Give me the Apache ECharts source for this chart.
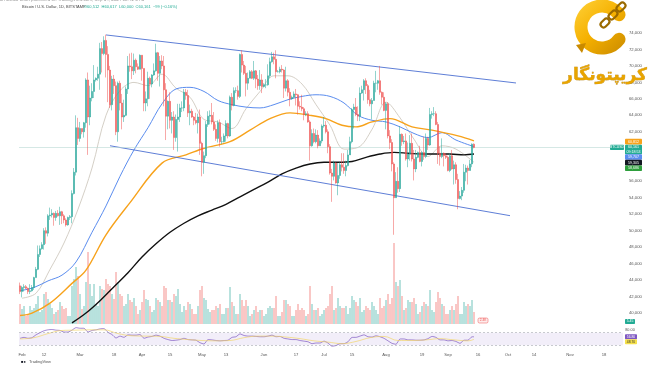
<!DOCTYPE html>
<html><head><meta charset="utf-8">
<script src="https://cdn.jsdelivr.net/npm/echarts/dist/echarts.min.js"></script>
<style>html,body{margin:0;padding:0;background:#fff}#c{width:650px;height:365px}</style>
</head><body><div id="c"></div>
<script>
// ---------- data (prices in thousands of USD) ----------
const startDate = '2024-01-31';
const endDate = '2024-11-27';
// daily candles from 2024-01-31: [open, close, low, high]
const candles = [
[43.3,42.6,42.3,43.7],
// Feb
[42.6,43.1,41.9,43.3],[43.1,43.2,42.6,43.5],[43.2,43.0,42.9,43.4],[43.0,42.6,42.3,43.1],[42.6,42.7,42.3,43.5],[42.7,43.1,42.6,43.4],[43.1,44.3,42.8,44.4],
[44.3,45.3,44.3,45.6],[45.3,47.1,45.2,48.2],[47.1,47.8,46.8,48.2],[47.8,48.3,47.7,48.6],[48.3,50.0,47.7,50.3],[50.0,49.7,48.4,50.4],[49.7,51.8,49.3,52.0],
[51.8,51.9,51.3,52.8],[51.9,52.1,51.6,52.6],[52.1,51.6,50.6,52.2],[51.6,52.1,51.2,52.4],[52.1,51.8,51.7,52.5],[51.8,52.3,50.7,52.9],[52.3,51.8,50.8,52.4],
[51.8,51.3,50.9,52.0],[51.3,50.7,50.5,51.5],[50.7,51.6,50.6,51.7],[51.6,51.7,51.3,51.9],[51.7,54.5,50.9,54.9],[54.5,57.1,54.4,57.6],[57.1,62.5,56.7,64.0],
[62.5,61.2,60.4,63.7],
// Mar
[61.2,62.4,60.8,63.2],[62.4,62.0,61.7,62.4],[62.0,63.1,61.3,63.2],[63.1,68.3,62.5,68.5],[68.3,63.8,59.2,69.2],[63.8,66.1,62.8,67.6],[66.1,66.9,65.7,67.9],
[66.9,68.3,66.1,70.1],[68.3,68.5,68.1,68.6],[68.5,69.0,68.2,69.9],[69.0,72.1,67.1,72.8],[72.1,71.5,69.2,72.9],[71.5,73.1,71.3,73.6],[73.1,71.4,68.6,73.8],
[71.4,69.5,65.6,72.4],[69.5,65.3,64.9,70.0],[65.3,68.4,64.6,68.8],[68.4,67.6,66.6,68.9],[67.6,62.0,61.6,68.1],[62.0,67.9,60.8,68.1],[67.9,65.5,64.6,68.2],
[65.5,63.8,62.3,66.6],[63.8,64.0,63.2,65.9],[64.0,67.2,63.9,67.5],[67.2,70.0,66.6,71.2],[70.0,69.9,69.3,71.5],[69.9,69.4,68.4,71.6],[69.4,70.7,68.9,71.5],
[70.7,69.9,69.1,70.9],[69.9,69.6,69.5,70.3],[69.6,71.3,69.6,71.4],
// Apr
[71.3,69.7,68.2,71.3],[69.7,65.5,64.5,69.7],[65.5,66.0,64.5,66.9],[66.0,68.5,65.1,69.3],[68.5,67.8,66.0,68.7],[67.8,68.9,67.4,69.0],[68.9,69.4,68.8,70.3],
[69.4,71.6,69.3,72.7],[71.6,69.1,68.2,71.7],[69.1,70.6,67.5,71.2],[70.6,70.0,69.6,71.3],[70.0,67.1,65.1,71.2],[67.1,63.9,61.0,67.9],[63.9,65.7,62.3,65.8],
[65.7,63.4,62.4,66.8],[63.4,63.8,61.8,64.4],[63.8,61.3,59.8,64.5],[61.3,63.5,60.8,64.1],[63.5,63.8,59.6,65.4],[63.8,64.9,63.2,65.4],[64.9,64.9,64.4,65.7],
[64.9,66.8,64.5,67.2],[66.8,66.4,65.9,67.2],[66.4,64.3,63.8,67.1],[64.3,64.5,62.8,65.3],[64.5,63.8,63.7,64.8],[63.8,63.4,62.8,63.9],[63.4,63.1,62.9,64.3],
[63.1,63.8,61.8,64.2],[63.8,60.6,59.2,64.7],
// May
[60.6,58.3,56.6,60.8],[58.3,59.1,56.9,59.6],[59.1,62.9,58.8,63.3],[62.9,63.9,62.6,64.5],[63.9,64.0,62.9,64.6],[64.0,63.2,62.9,65.5],[63.2,62.3,62.1,64.4],
[62.3,61.2,60.9,62.9],[61.2,63.1,60.7,63.4],[63.1,60.8,60.2,63.5],[60.8,60.8,60.5,61.4],[60.8,61.5,60.7,61.8],[61.5,63.0,60.8,63.4],[63.0,61.5,61.2,63.1],
[61.5,66.2,61.4,66.4],[66.2,65.2,64.6,66.7],[65.2,67.0,65.1,67.4],[67.0,67.0,66.7,67.4],[67.0,66.3,65.9,67.6],[66.3,71.4,66.1,71.5],[71.4,70.1,69.2,71.9],
[70.1,69.1,68.9,70.6],[69.1,67.9,66.3,70.0],[67.9,68.5,67.1,69.2],[68.5,69.3,68.5,69.5],[69.3,68.5,68.4,69.5],[68.5,69.4,68.3,70.6],[69.4,68.4,67.3,69.5],
[68.4,67.6,67.1,68.9],[67.6,68.3,67.1,69.5],[68.3,67.5,66.7,69.0],
// Jun
[67.5,67.7,67.4,67.9],[67.7,67.7,67.3,68.4],[67.7,68.8,67.6,70.2],[68.8,70.5,68.5,71.0],[70.5,71.1,70.4,71.7],[71.1,70.8,70.2,71.6],[70.8,69.3,68.5,71.9],
[69.3,69.3,69.2,69.5],[69.3,69.6,69.1,69.9],[69.6,69.5,69.2,70.1],[69.5,67.3,66.1,69.6],[67.3,68.2,66.9,69.9],[68.2,66.8,66.3,68.4],[66.8,66.0,65.1,67.3],
[66.0,66.2,65.9,66.4],[66.2,66.6,66.1,66.9],[66.6,66.5,65.2,67.2],[66.5,65.1,64.1,66.6],[65.1,65.0,64.7,65.7],[65.0,64.8,64.5,66.5],[64.8,64.1,63.4,65.0],
[64.1,64.2,63.9,64.5],[64.2,63.2,63.1,64.5],[63.2,60.3,58.5,63.4],[60.3,61.8,60.2,62.3],[61.8,60.8,60.6,62.4],[60.8,61.6,60.6,62.3],[61.6,60.3,60.0,62.2],
[60.3,60.9,60.3,61.2],[60.9,62.7,60.6,62.9],
// Jul
[62.7,62.8,62.5,63.8],[62.8,62.0,61.8,63.3],[62.0,60.2,59.4,62.3],[60.2,57.0,56.8,60.5],[57.0,56.6,53.5,57.5],[56.6,58.2,56.1,58.5],[58.2,55.8,55.7,58.3],
[55.8,56.7,54.3,58.2],[56.7,58.0,56.3,58.3],[58.0,57.7,57.2,59.4],[57.7,57.3,56.9,59.4],[57.3,57.9,56.6,58.5],[57.9,59.2,57.8,59.8],[59.2,60.8,59.2,61.4],
[60.8,64.7,60.6,64.9],[64.7,65.0,62.4,65.4],[65.0,64.1,63.9,66.1],[64.1,63.9,63.3,65.1],[63.9,66.7,63.3,67.4],[66.7,67.1,66.6,67.6],[67.1,68.2,65.8,68.4],
[68.2,67.6,66.6,68.5],[67.6,65.9,65.4,67.8],[65.9,65.4,65.1,67.1],[65.4,65.8,63.5,66.1],[65.8,67.9,65.8,68.2],[67.9,67.9,66.8,69.4],[67.9,68.2,67.1,68.3],
[68.2,66.8,66.5,70.0],[66.8,66.2,65.3,66.9],[66.2,64.6,64.5,66.8],
// Aug
[64.6,65.4,62.3,65.6],[65.4,61.5,61.2,65.6],[61.5,60.7,59.9,62.2],[60.7,58.1,57.2,61.1],[58.1,54.0,49.5,58.3],[54.0,56.0,54.0,57.1],[56.0,55.1,54.6,57.7],
[55.1,61.7,54.7,62.7],[61.7,60.8,60.3,61.8],[60.8,60.9,60.5,61.5],[60.9,58.7,58.5,61.8],[58.7,59.3,57.7,60.7],[59.3,60.6,58.5,61.6],[60.6,58.7,58.4,61.8],
[58.7,57.5,56.1,59.8],[57.5,58.9,57.1,59.8],[58.9,59.5,58.8,59.6],[59.5,58.4,58.3,60.3],[58.4,59.5,57.8,59.6],[59.5,59.0,58.6,61.4],[59.0,61.2,58.8,61.8],
[61.2,60.4,59.8,61.4],[60.4,64.1,60.3,64.9],[64.1,64.2,63.6,64.5],[64.2,64.2,63.9,65.0],[64.2,62.9,62.8,64.5],[62.9,59.4,58.1,63.2],[59.4,59.0,57.9,60.2],
[59.0,59.4,58.8,61.2],[59.4,59.1,57.8,59.5],[59.1,58.9,58.7,59.4],
// Sep
[58.9,57.3,57.2,59.1],[57.3,59.1,57.1,59.4],[59.1,57.5,57.4,59.8],[57.5,58.0,55.6,58.5],[58.0,56.2,55.7,58.3],[56.2,53.9,52.6,56.9],[53.9,54.2,53.8,54.8],
[54.2,54.9,53.7,55.3],[54.9,57.1,54.6,58.1],[57.1,57.6,56.0,58.0],[57.6,57.3,55.6,57.9],[57.3,58.1,57.3,58.6],[58.1,60.5,57.7,60.6],[60.5,60.1,60.0,60.6]
];
// daily volume (relative units), same days as candles
const volumes = [
20,15,18,8,10,18,14,16,20,
28,12,14,30,32,25,20, 16,10,12,14,22,18,15, 16,8,8,38,45,57,48,
30,15,18,42,72,40,28, 40,20,18,38,35,34,45, 40,38,30,25,52,42,30, 28,18,20,30,24,22,26,
18,10,14,22,34,25,24, 18,12,14,26,24,22,18, 38,36,24,24,22,30,28, 35,20,12,18,14,22,20,
15,10,10,18,34,38,26, 24,15,12,14,14,18,16, 20,10,10,16,16,37,22, 18,10,10,30,24,18,24,
18,8,10,14,18,12,14, 14,8,10,16,18,16,16, 28,8,8,12,24,24,20, 18,8,8,14,20,14,16,
14,8,10,38,20,14,14, 16,8,10,14,16,18,30, 38,14,16,26,18,16,16, 18,10,16,28,24,22,18,
26,12,14,18,16,14,22, 18,14,10,26,16,18,24, 30,20,26,81,42,38,44, 28,14,16,24,22,22,26,
20,10,12,18,22,20,18, 34,14,12,22,32,26,20, 18,10,10,14,18,14,20, 28,10,10,22,18,20,18,
24,12
];
// moving averages
const ma20 = [['2024-02-01',41.8],['2024-02-08',42.4],['2024-02-15',45.3],['2024-02-22',48.5],['2024-02-29',52.6],['2024-03-07',57.6],['2024-03-14',64.0],['2024-03-21',67.0],['2024-03-28',68.0],['2024-04-04',67.6],['2024-04-11',69.0],['2024-04-18',67.3],['2024-04-25',66.2],['2024-05-02',63.5],['2024-05-09',63.2],['2024-05-16',62.4],['2024-05-23',64.8],['2024-05-30',66.9],['2024-06-06',68.8],['2024-06-13',68.8],['2024-06-20',67.8],['2024-06-27',65.3],['2024-07-04',62.8],['2024-07-11',59.9],['2024-07-18',60.1],['2024-07-25',62.3],['2024-08-01',65.6],['2024-08-08',63.7],['2024-08-15',61.1],['2024-08-22',59.0],['2024-08-29',60.3],['2024-09-05',59.9],['2024-09-14',58.3]];
const ma50 = [['2024-01-31',42.7],['2024-02-07',43.1],['2024-02-14',43.9],['2024-02-21',44.6],['2024-02-28',46.2],['2024-03-07',49.8],['2024-03-14',53.0],['2024-03-21',56.6],['2024-03-28',59.8],['2024-04-04',62.5],['2024-04-11',65.4],['2024-04-18',67.2],['2024-04-25',67.4],['2024-05-02',66.9],['2024-05-09',65.8],['2024-05-16',65.3],['2024-05-23',65.0],['2024-05-30',64.9],['2024-06-06',65.3],['2024-06-13',65.9],['2024-06-20',66.3],['2024-06-27',66.5],['2024-07-04',66.3],['2024-07-11',65.5],['2024-07-18',64.0],['2024-07-25',63.4],['2024-08-01',63.2],['2024-08-08',62.6],['2024-08-15',61.8],['2024-08-22',61.3],['2024-08-29',61.9],['2024-09-05',61.0],['2024-09-14',60.2]];
const ma100 = [['2024-01-31',39.7],['2024-02-06',40.0],['2024-02-15',41.2],['2024-02-26',43.6],['2024-03-04',45.2],['2024-03-14',49.5],['2024-03-26',53.4],['2024-04-11',58.2],['2024-04-23',59.2],['2024-05-02',60.0],['2024-05-15',60.8],['2024-05-25',62.2],['2024-06-04',63.6],['2024-06-14',64.3],['2024-06-24',64.0],['2024-07-02',63.6],['2024-07-10',62.8],['2024-07-17',62.6],['2024-07-25',63.2],['2024-08-03',63.6],['2024-08-14',62.6],['2024-08-24',62.2],['2024-09-06',61.5],['2024-09-14',60.9]];
const ma200 = [['2024-02-26',38.8],['2024-03-04',40.0],['2024-03-11',41.5],['2024-03-18',43.2],['2024-03-25',44.9],['2024-04-01',46.8],['2024-04-08',48.4],['2024-04-15',49.8],['2024-04-22',50.9],['2024-04-29',51.8],['2024-05-06',52.5],['2024-05-13',53.2],['2024-05-20',54.1],['2024-05-27',55.0],['2024-06-03',55.9],['2024-06-10',56.9],['2024-06-17',57.6],['2024-06-24',58.1],['2024-07-01',58.3],['2024-07-08',58.3],['2024-07-15',58.4],['2024-07-22',58.9],['2024-07-29',59.3],['2024-08-05',59.5],['2024-08-12',59.4],['2024-08-19',59.3],['2024-08-26',59.3],['2024-09-02',59.3],['2024-09-09',59.2],['2024-09-14',59.3]];
// drawn channel lines
const channelUpper = [['2024-03-14',73.76],['2024-10-05',67.93]];
const channelLower = [['2024-03-16',60.31],['2024-10-02',51.82]];
// RSI (14) and its moving average
const rsi = [['2024-01-31',52],['2024-02-02',55],['2024-02-04',52],['2024-02-06',54],['2024-02-08',63],['2024-02-10',70],['2024-02-12',76],['2024-02-14',79],['2024-02-16',80],['2024-02-18',78],['2024-02-20',77],['2024-02-22',72],['2024-02-24',72],['2024-02-26',78],['2024-02-28',86],['2024-03-01',84],['2024-03-03',84],['2024-03-05',72],['2024-03-07',77],['2024-03-09',79],['2024-03-11',82],['2024-03-13',83],['2024-03-15',71],['2024-03-17',64],['2024-03-19',53],['2024-03-21',59],['2024-03-23',55],['2024-03-25',63],['2024-03-27',62],['2024-03-29',62],['2024-03-31',64],['2024-04-02',52],['2024-04-04',56],['2024-04-06',58],['2024-04-08',62],['2024-04-10',59],['2024-04-12',52],['2024-04-14',48],['2024-04-16',45],['2024-04-18',46],['2024-04-20',48],['2024-04-22',52],['2024-04-24',48],['2024-04-26',47],['2024-04-28',46],['2024-04-30',38],['2024-05-02',34],['2024-05-04',48],['2024-05-06',47],['2024-05-08',45],['2024-05-10',44],['2024-05-12',45],['2024-05-14',46],['2024-05-16',55],['2024-05-18',57],['2024-05-20',66],['2024-05-22',61],['2024-05-24',59],['2024-05-26',59],['2024-05-28',58],['2024-05-30',57],['2024-06-01',57],['2024-06-03',59],['2024-06-05',62],['2024-06-07',57],['2024-06-09',58],['2024-06-11',52],['2024-06-13',50],['2024-06-15',48],['2024-06-17',48],['2024-06-19',45],['2024-06-21',43],['2024-06-23',41],['2024-06-25',35],['2024-06-27',37],['2024-06-29',37],['2024-07-01',43],['2024-07-03',37],['2024-07-05',27],['2024-07-07',29],['2024-07-09',35],['2024-07-11',35],['2024-07-13',41],['2024-07-15',55],['2024-07-17',55],['2024-07-19',59],['2024-07-21',63],['2024-07-23',57],['2024-07-25',56],['2024-07-27',60],['2024-07-29',57],['2024-07-31',52],['2024-08-02',44],['2024-08-04',36],['2024-08-06',33],['2024-08-08',50],['2024-08-10',50],['2024-08-12',47],['2024-08-14',47],['2024-08-16',46],['2024-08-18',46],['2024-08-20',47],['2024-08-22',51],['2024-08-24',58],['2024-08-26',55],['2024-08-28',47],['2024-08-30',47],['2024-09-01',44],['2024-09-03',45],['2024-09-05',42],['2024-09-07',36],['2024-09-09',46],['2024-09-11',46],['2024-09-13',57],['2024-09-14',56.8]];
const rsiMa = [['2024-01-31',50],['2024-02-07',54],['2024-02-14',67],['2024-02-21',77],['2024-02-28',78],['2024-03-06',79],['2024-03-13',79],['2024-03-20',67],['2024-03-27',60],['2024-04-03',59],['2024-04-10',58],['2024-04-17',52],['2024-04-24',48],['2024-05-01',45],['2024-05-08',44],['2024-05-15',45],['2024-05-22',54],['2024-05-29',59],['2024-06-05',59],['2024-06-12',56],['2024-06-19',51],['2024-06-26',44],['2024-07-03',40],['2024-07-10',35],['2024-07-17',42],['2024-07-24',54],['2024-07-31',58],['2024-08-07',45],['2024-08-14',45],['2024-08-21',47],['2024-08-28',51],['2024-09-04',47],['2024-09-11',44],['2024-09-14',48.7]];
// axis ticks
const tickDates = ['2024-02-01','2024-02-12','2024-03-01','2024-03-18','2024-04-01','2024-04-15','2024-05-01','2024-05-13','2024-06-01','2024-06-17','2024-07-01','2024-07-15','2024-08-01','2024-08-19','2024-09-01','2024-09-16','2024-10-01','2024-10-14','2024-11-01','2024-11-18'];
const tickTexts = ['Feb','12','Mar','18','Apr','15','May','13','Jun','17','Jul','15','Aug','19','Sep','16','Oct','14','Nov','18'];
const priceTicksHidden = [38, 58, 60, 76];
const lastPrice = 60.1;
// right-hand price tags: value, text, background
const tagValues = [60.81, 60.1, 59.71, 59.31, 58.69];
const tagTexts = ['60,812', '60,161\n09:18:53', '59,707', '59,305', '58,686'];
const tagColors = ['#f7a21b', '#22ab94', '#5b8def', '#131722', '#2e9e3c'];
const headerTitle = 'Bitcoin / U.S. Dollar, 1D, BITSTAMP';
const headerValues = 'O60,512  H60,617  L60,000  C60,161  \u221299 (\u22120.16%)';
const rsiTags = ['56.80', '48.70'];
const rsiTagValues = [56.8, 48.7];

// ---------- chart ----------
const categories = [];
for (let d = new Date(startDate + 'T00:00:00Z'); d <= new Date(endDate + 'T00:00:00Z'); d.setUTCDate(d.getUTCDate() + 1)) {
  categories.push(d.toISOString().slice(0, 10));
}
const UP = '#26a69a', DOWN = '#ef5350';
const FONT = 'Liberation Sans';
const chart = echarts.init(document.getElementById('c'), null, {renderer: 'canvas'});
const GL = 19, GW = categories.length * 2;
const fmt = v => (Math.round(v * 1000)).toLocaleString('en-US');

const isUp = r => r[1] >= r[0];
const candleData = candles.map(r => ({
  value: r,
  itemStyle: {color: isUp(r) ? UP : DOWN, color0: DOWN, borderColor: isUp(r) ? UP : DOWN, borderColor0: DOWN}
}));
const volData = volumes.map((v, i) => ({
  value: v,
  itemStyle: {color: isUp(candles[i]) ? 'rgba(38,166,154,0.5)' : 'rgba(239,83,80,0.5)'}
}));

const lineBase = {type: 'line', xAxisIndex: 0, yAxisIndex: 0, symbol: 'none', smooth: 0.35, silent: true, z: 3};

chart.setOption({
  animation: false,
  backgroundColor: '#ffffff',
  grid: [
    {left: GL, width: GW, top: 16.5, height: 313},
    {left: GL, width: GW, top: 160, height: 164},
    {left: GL, width: GW, top: 327, height: 22}
  ],
  xAxis: [
    {type: 'category', gridIndex: 0, data: categories, boundaryGap: true, axisLine: {show: false}, axisTick: {show: false}, axisLabel: {show: false}, splitLine: {show: false}},
    {type: 'category', gridIndex: 1, data: categories, boundaryGap: true, axisLine: {show: false}, axisTick: {show: false}, axisLabel: {show: false}, splitLine: {show: false}},
    {type: 'category', gridIndex: 2, data: categories, boundaryGap: true, axisLine: {show: false}, axisTick: {show: false},
      axisLabel: {show: true, margin: 4, fontSize: 4.2, color: '#555', fontFamily: FONT,
        interval: (idx, val) => tickDates.indexOf(val) >= 0,
        formatter: val => tickTexts[tickDates.indexOf(val)] || ''},
      splitLine: {show: false}}
  ],
  yAxis: [
    {type: 'value', gridIndex: 0, position: 'right', min: 38, max: 76, interval: 2, scale: false,
      axisLine: {show: false}, axisTick: {show: false}, splitLine: {show: false},
      axisLabel: {margin: 6, fontSize: 4.2, color: '#555', fontFamily: FONT,
        formatter: v => priceTicksHidden.indexOf(v) >= 0 ? '' : fmt(v)}},
    {type: 'value', gridIndex: 1, min: 0, max: 164, show: false},
    {type: 'value', gridIndex: 2, min: 18, max: 88, show: false}
  ],
  series: [
    {type: 'bar', name: 'Volume', xAxisIndex: 1, yAxisIndex: 1, data: volData, barWidth: 1.3, silent: true, z: 1},
    {type: 'candlestick', name: 'BTCUSD', xAxisIndex: 0, yAxisIndex: 0, data: candleData, barWidth: 1.5, z: 5, large: false,
      itemStyle: {color: UP, color0: DOWN, borderColor: UP, borderColor0: DOWN, borderWidth: 0.5},
      markLine: {silent: true, symbol: 'none', label: {show: false},
        lineStyle: {color: '#b9d9d4', width: 0.6, type: 'solid'},
        data: [{yAxis: lastPrice}]}},
    Object.assign({}, lineBase, {name: 'MA20', data: ma20, lineStyle: {color: '#c9c3b8', width: 0.8}}),
    Object.assign({}, lineBase, {name: 'MA50', data: ma50, lineStyle: {color: '#5b8def', width: 1}}),
    Object.assign({}, lineBase, {name: 'MA100', data: ma100, lineStyle: {color: '#f7a21b', width: 1.4}}),
    Object.assign({}, lineBase, {name: 'MA200', data: ma200, lineStyle: {color: '#111111', width: 1.4}}),
    Object.assign({}, lineBase, {name: 'Channel top', smooth: false, data: channelUpper, lineStyle: {color: '#4c6fd1', width: 0.9}}),
    Object.assign({}, lineBase, {name: 'Channel bottom', smooth: false, data: channelLower, lineStyle: {color: '#4c6fd1', width: 0.9}}),
    {type: 'line', name: 'RSI', xAxisIndex: 2, yAxisIndex: 2, data: rsi, symbol: 'none', smooth: 0.2, silent: true,
      lineStyle: {color: '#7e57c2', width: 0.7},
      markArea: {silent: true, itemStyle: {color: 'rgba(126,87,194,0.1)'}, data: [[{yAxis: 70}, {yAxis: 30}]]},
      markLine: {silent: true, symbol: 'none', label: {show: false},
        lineStyle: {color: '#9598a1', width: 0.5, type: [2, 2]},
        data: [{yAxis: 70}, {yAxis: 30}]}},
    {type: 'line', name: 'RSI MA', xAxisIndex: 2, yAxisIndex: 2, data: rsiMa, symbol: 'none', smooth: 0.4, silent: true,
      lineStyle: {color: '#f2d56b', width: 0.7}}
  ]
});

// ---------- annotations ----------
const g = [];
g.push({type: 'text', left: 0, top: -3, style: {text: 'BTCUSD chart published on TradingView.com, Sep 14, 2024 08:41 UTC', fontSize: 4.5, fill: '#999', fontFamily: FONT}});
g.push({type: 'text', x: 22, y: 5, style: {text: headerTitle, fontSize: 4, fill: '#444', fontFamily: FONT}});
g.push({type: 'text', x: 84, y: 5, style: {text: headerValues, fontSize: 4, fill: '#22ab94', fontFamily: FONT}});
// price tags stacked on the right scale
let prevBottom = -1;
tagValues.forEach((v, i) => {
  const lines = tagTexts[i].split('\n').length;
  const h = lines === 1 ? 5.6 : 9.6;
  const yc = chart.convertToPixel({yAxisIndex: 0}, v);
  let top = yc - 2.8;
  if (top < prevBottom) top = prevBottom;
  prevBottom = top + h;
  g.push({type: 'rect', shape: {x: 625, y: top, width: 17, height: h, r: 0.8}, style: {fill: tagColors[i]}, z: 20});
  g.push({type: 'text', x: 633.5, y: top + h / 2, style: {text: tagTexts[i], fontSize: 3.6, lineHeight: 4.2, fill: '#fff', align: 'center', verticalAlign: 'middle', fontFamily: FONT}, z: 21});
});
const yLast = chart.convertToPixel({yAxisIndex: 0}, lastPrice);
g.push({type: 'rect', shape: {x: 610, y: yLast - 2.6, width: 14, height: 5.2, r: 0.8}, style: {fill: '#22ab94'}, z: 20});
g.push({type: 'text', x: 617, y: yLast, style: {text: 'BTCUSD', fontSize: 3.4, fill: '#fff', align: 'center', verticalAlign: 'middle', fontFamily: FONT}, z: 21});
g.push({type: 'rect', shape: {x: 625, y: 319, width: 10, height: 5, r: 0.8}, style: {fill: '#22ab94'}, z: 20});
g.push({type: 'text', x: 630, y: 321.5, style: {text: '5.45', fontSize: 3.4, fill: '#fff', align: 'center', verticalAlign: 'middle', fontFamily: FONT}, z: 21});
g.push({type: 'rect', shape: {x: 478, y: 318, width: 10, height: 5, r: 1.5}, style: {fill: '#fdecec', stroke: '#ef5350', lineWidth: 0.5}, z: 20});
g.push({type: 'text', x: 483, y: 320.5, style: {text: '2.4K', fontSize: 3.2, fill: '#ef5350', align: 'center', verticalAlign: 'middle', fontFamily: FONT}, z: 21});
g.push({type: 'text', x: 630, y: 329.5, style: {text: '80.00', fontSize: 3.8, fill: '#555', align: 'center', verticalAlign: 'middle', fontFamily: FONT}});
const rsiColors = ['#7e57c2', '#f5e04a'];
const rsiText = ['#fff', '#333'];
let rb = -1;
rsiTagValues.forEach((v, i) => {
  let top = chart.convertToPixel({yAxisIndex: 2}, v) - 2.5;
  if (top < rb) top = rb;
  rb = top + 5;
  g.push({type: 'rect', shape: {x: 625, y: top, width: 12, height: 5, r: 0.8}, style: {fill: rsiColors[i]}, z: 20});
  g.push({type: 'text', x: 631, y: top + 2.5, style: {text: rsiTags[i], fontSize: 3.4, fill: rsiText[i], align: 'center', verticalAlign: 'middle', fontFamily: FONT}, z: 21});
});
g.push({type: 'text', x: 21, y: 362, style: {text: '\u25A0\u25CF', fontSize: 4, fill: '#131722', verticalAlign: 'middle', fontFamily: FONT}});
g.push({type: 'text', x: 29, y: 362, style: {text: 'TradingView', fontSize: 4, fill: '#555', verticalAlign: 'middle', fontFamily: FONT}});
// logo
const gold = new echarts.graphic.LinearGradient(0, 0, 1, 1, [{offset: 0, color: '#ffd23a'}, {offset: 0.5, color: '#f5b000'}, {offset: 1, color: '#c98a00'}]);
g.push({type: 'arc', shape: {cx: 602, cy: 27, r: 21, startAngle: Math.PI * 0.2, endAngle: Math.PI * 1.8, clockwise: true},
  style: {stroke: gold, lineWidth: 13, fill: null, lineCap: 'round'}, z: 30});
for (let k = 0; k < 3; k++) {
  g.push({type: 'rect', shape: {x: -5, y: -3, width: 10, height: 6, r: 3}, x: 621 - k * 8, y: 7 + k * 8, rotation: Math.PI / 4,
    style: {fill: 'none', stroke: '#9a6a00', lineWidth: 2.2}, z: 31});
}
g.push({type: 'polygon', shape: {points: [[576, 45], [586, 43], [582, 53]]}, style: {fill: '#c98a00'}, z: 31});
g.push({type: 'text', x: 605, y: 76, style: {text: 'کریپتونگار', fontSize: 17, fontWeight: 'bold', fill: '#e8a400', align: 'center', verticalAlign: 'middle', fontFamily: 'DejaVu Sans', stroke: '#b07a00', lineWidth: 0.4}, z: 30});

chart.setOption({graphic: g});
</script></body></html>
